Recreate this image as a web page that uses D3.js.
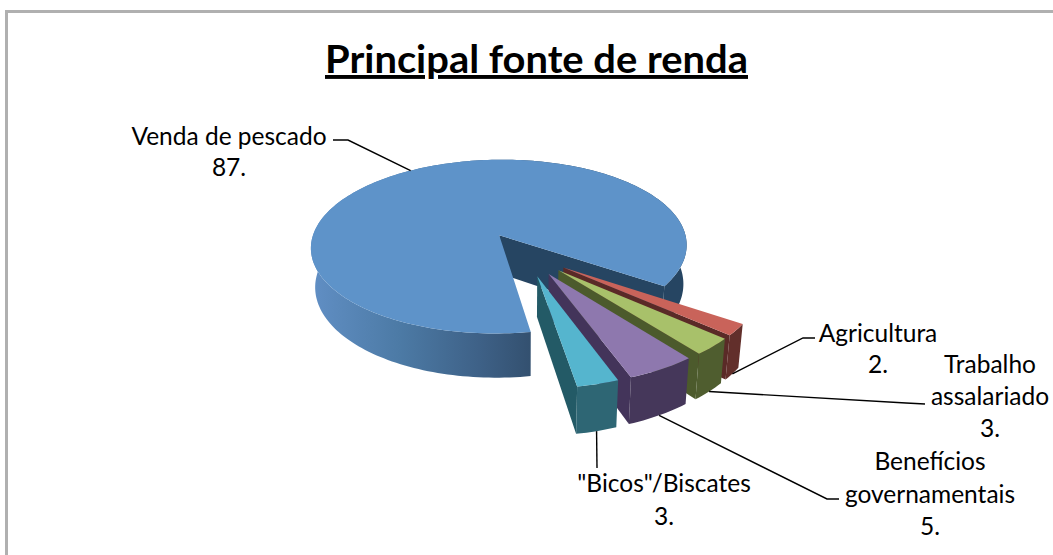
<!DOCTYPE html>
<html><head><meta charset="utf-8">
<script src="https://cdn.jsdelivr.net/npm/d3@7/dist/d3.min.js"></script>
<style>html,body{margin:0;padding:0;background:#fff;overflow:hidden}svg{display:block}</style>
</head><body><svg id="c" width="1053" height="555"></svg>
<script>
// ---- data ----
const categories = ["Venda de pescado","Agricultura","Trabalho assalariado","Benefícios governamentais","\"Bicos\"/Biscates"];
const values = [87,2,3,5,3];
const labelLines = [["Venda de pescado","87."],["Agricultura","2."],["Trabalho","assalariado","3."],["Benefícios","governamentais","5."],["\"Bicos\"/Biscates","3."]];
const topColors = ["#5E93C9","#C9635A","#A8C16A","#8E78AE","#55B5CE"];
const edgeColors = ["#264562","#5A2A27","#4C5A2C","#43345A","#235A66"];
const rimColors = ["url(#rimBlue)","#622F2B","#4F5D2F","#45375A","#2E6674"];
// ---- layout (label anchor, baseline of first line, line step, leader elbow & end) ----
const labelX = [229,878,990,930,664];
const labelY = [145,342,373,470,492];
const lineStep = [31,31,32,32.5,33];
const leaderPts = [[[348,140],[333,140]],[[803,338],[815,338]],[[906,403],[925,404]],[[827,499],[839,499]],[[597,468]]];
const firstAngleDeg = 170.5, explode = 0.25;
const Xc=524.5, Yc=253.6, Rx=191.5, Ry=90.3, persp=0.135, H=39.5, taper=0.02;

const svg = d3.select("#c");
const defs = svg.append("defs");
const grad = defs.append("linearGradient").attr("id","rimBlue").attr("gradientUnits","userSpaceOnUse")
  .attr("x1",310).attr("x2",686).attr("y1",0).attr("y2",0);
[[0,"#618FC5"],[0.08,"#5A88BA"],[0.24,"#4C7AA5"],[0.45,"#3E6187"],[0.59,"#33506F"],[0.6,"#264562"],[1,"#264562"]]
  .forEach(s=>grad.append("stop").attr("offset",s[0]).attr("stop-color",s[1]));

// frame
svg.append("path").attr("d","M6.5,555V11.5H1053").attr("fill","none").attr("stroke","#b0b0b0").attr("stroke-width",3);

const pie = d3.pie().sort(null).value(d=>d)
  .startAngle(firstAngleDeg*Math.PI/180).endAngle((firstAngleDeg+360)*Math.PI/180);
const arcs = pie(values);
const project = (u,z,h=0)=>{const s=1/(1+persp*z);return [Xc+Rx*u*s*(1-taper*h), Yc-Ry*z*s+H*h*s];};
const line = d3.line();
const slices = arcs.map(a=>{
  const m=(a.startAngle+a.endAngle)/2;
  const ax=explode*Math.sin(m), az=explode*Math.cos(m);
  const pt=(t,r,h)=>project(ax+r*Math.sin(t),az+r*Math.cos(t),h);
  const n=Math.max(4,Math.ceil((a.endAngle-a.startAngle)*40));
  const ts=d3.range(n+1).map(i=>a.startAngle+(a.endAngle-a.startAngle)*i/n);
  return {m,pt,ts,a};
});
const closed = pts=>line(pts)+"Z";
const g = svg.append("g");
slices.forEach((s,i)=>{
  const rimTop=s.ts.map(t=>s.pt(t,1,0));
  const rimBot=s.ts.map(t=>s.pt(t,1,1)).reverse();
  const t=s.a.endAngle;
  g.append("path").attr("d",closed([s.pt(t,0,0),s.pt(t,1,0),s.pt(t,1,1),s.pt(t,0,1)])).attr("fill",edgeColors[i]);
  g.append("path").attr("d",closed(rimTop.concat(rimBot))).attr("fill",rimColors[i]);
  g.append("path").attr("d",closed([s.pt(0,0,0)].concat(rimTop))).attr("fill",topColors[i]);
});

// leaders
slices.forEach((s,i)=>{
  const start = i===0 ? s.pt(s.m,1,0) : s.pt(s.m,1,1);
  svg.append("path").attr("d",line([start].concat(leaderPts[i]))).attr("fill","none").attr("stroke","#000").attr("stroke-width",1.4);
});

// labels
const font="Lato, Carlito, sans-serif";
labelLines.forEach((ls,i)=>{
  ls.forEach((t,j)=>{
    svg.append("text").attr("x",labelX[i]).attr("y",labelY[i]+j*lineStep[i]).attr("text-anchor","middle")
      .attr("font-family",font).attr("font-size",24.5).attr("fill","#000").text(t);
  });
});
svg.append("text").attr("x",536.5).attr("y",73).attr("text-anchor","middle").attr("font-family",font)
  .attr("font-size",39).attr("font-weight",700).attr("fill","#000").attr("text-decoration","underline")
  .attr("textLength",423).attr("lengthAdjust","spacingAndGlyphs").text("Principal fonte de renda");
</script></body></html>
